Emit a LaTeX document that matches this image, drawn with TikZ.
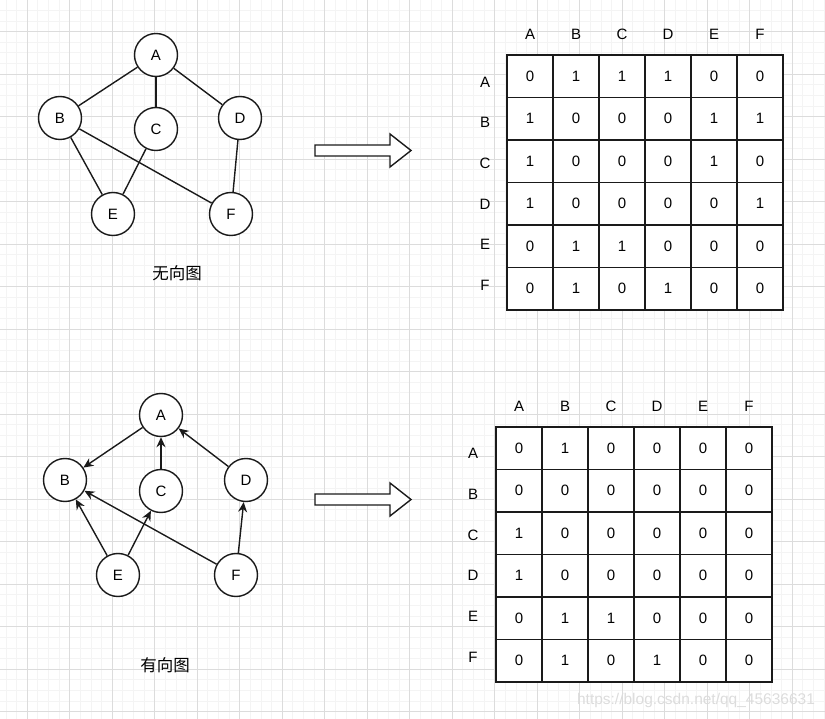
\documentclass[tikz,border=0pt]{standalone}
\usepackage{fontspec}
\setmainfont{Liberation Sans}
\newfontfamily\cjkfont{Noto Sans CJK SC}
\usepackage{tikz}
\usepackage{xcolor}
\usetikzlibrary{positioning, arrows.meta}
\definecolor{gridminor}{HTML}{F4F4F4}
\definecolor{gridmajor}{HTML}{DCDCDC}
\definecolor{inkline}{HTML}{1A1A1A}
\definecolor{wmark}{HTML}{DCDCDC}

\begin{document}
\begin{tikzpicture}[
    x=1pt, y=-1pt,
    vtx/.style={circle, draw=inkline, line width=1.4pt, fill=white,
                minimum size=43pt, inner sep=0pt, font=\fontsize{15}{18}\selectfont},
    cell/.style={rectangle, draw=inkline, line width=1.4pt, fill=white,
                 minimum width=46pt, minimum height=42.5pt, inner sep=0pt,
                 font=\fontsize{15}{18}\selectfont},
    hdr/.style={inner sep=0pt, text height=10.8pt, text depth=0pt,
                font=\fontsize{15}{18}\selectfont},
    edge/.style={line width=1.4pt, inkline},
    dedge/.style={edge, -{Stealth[length=10pt, width=9pt]}},
    bigarrow/.style={draw=inkline, line width=1.4pt, fill=white},
    caption/.style={font=\cjkfont\fontsize{16.5}{20}\selectfont}
  ]
    % background grid
    \useasboundingbox (0,0) rectangle (825,719);
    \begin{scope}
      \clip (0,0) rectangle (825,719);
      \foreach \i in {-3,...,76}
        \draw[gridminor, line width=0.5pt] ({27+10.625*\i},0) -- ({27+10.625*\i},719);
      \foreach \j in {-3,...,66}
        \draw[gridminor, line width=0.5pt] (0,{31.5+10.625*\j}) -- (825,{31.5+10.625*\j});
      \foreach \i in {0,...,19}
        \draw[gridmajor, line width=0.8pt] ({27+42.5*\i},0) -- ({27+42.5*\i},719);
      \foreach \j in {0,...,16}
        \draw[gridmajor, line width=0.8pt] (0,{31.5+42.5*\j}) -- (825,{31.5+42.5*\j});
    \end{scope}

    % undirected graph
    \node[vtx] (ua) at (156,55) {A};
    \node[vtx] (ub) at (60,118) {B};
    \node[vtx] (uc) at (156,129) {C};
    \node[vtx] (ud) at (240,118) {D};
    \node[vtx] (ue) at (113,214) {E};
    \node[vtx] (uf) at (231,214) {F};
    \draw[edge] (ua) -- (ub);
    \draw[edge] (ua) -- (uc);
    \draw[edge] (ua) -- (ud);
    \draw[edge] (ub) -- (ue);
    \draw[edge] (ub) -- (uf);
    \draw[edge] (uc) -- (ue);
    \draw[edge] (ud) -- (uf);
    \node[caption] (ucap) at (177,273) {无向图};

    % directed graph
    \node[vtx] (da) at (161,415) {A};
    \node[vtx] (db) at (65,480) {B};
    \node[vtx] (dc) at (161,491) {C};
    \node[vtx] (dd) at (246,480) {D};
    \node[vtx] (de) at (118,575) {E};
    \node[vtx] (df) at (236,575) {F};
    \draw[dedge] (da) -- (db);
    \draw[dedge] (dc) -- (da);
    \draw[dedge] (dd) -- (da);
    \draw[dedge] (de) -- (db);
    \draw[dedge] (de) -- (dc);
    \draw[dedge] (df) -- (db);
    \draw[dedge] (df) -- (dd);
    \node[caption] (dcap) at (165,665) {有向图};

    % block arrows
    \draw[bigarrow] (315,145) -- (390,145) -- (390,134) -- (411,150.5)
                    -- (390,167) -- (390,156) -- (315,156) -- cycle;
    \draw[bigarrow] (315,494) -- (390,494) -- (390,483) -- (411,499.5)
                    -- (390,516) -- (390,505) -- (315,505) -- cycle;

    % adjacency matrix, undirected
    \foreach \row [count=\r] in {{0,1,1,1,0,0},{1,0,0,0,1,1},{1,0,0,0,1,0},
                                 {1,0,0,0,0,1},{0,1,1,0,0,0},{0,1,0,1,0,0}}
      \foreach \v [count=\c] in \row
        \node[cell] (u-\r-\c) at ({530+46*(\c-1)},{76.25+42.5*(\r-1)}) {\v};
    \foreach \name [count=\c] in {A,B,C,D,E,F} {
      \node[hdr, above=15pt of u-1-\c] (uh-\c) {\name};
      \node[hdr] (ur-\c) at (485,{82+40.6*(\c-1)}) {\name};
    }

    % adjacency matrix, directed
    \foreach \row [count=\r] in {{0,1,0,0,0,0},{0,0,0,0,0,0},{1,0,0,0,0,0},
                                 {1,0,0,0,0,0},{0,1,1,0,0,0},{0,1,0,1,0,0}}
      \foreach \v [count=\c] in \row
        \node[cell] (d-\r-\c) at ({519+46*(\c-1)},{448.25+42.5*(\r-1)}) {\v};
    \foreach \name [count=\c] in {A,B,C,D,E,F} {
      \node[hdr, above=15pt of d-1-\c] (dh-\c) {\name};
      \node[hdr] (dr-\c) at (473,{453+40.8*(\c-1)}) {\name};
    }

    % watermark
    \node[text=wmark, font=\fontsize{15.5}{18}\selectfont] (wm) at (696,700) {https://blog.csdn.net/qq\_45636631};
  \end{tikzpicture}
\end{document}
